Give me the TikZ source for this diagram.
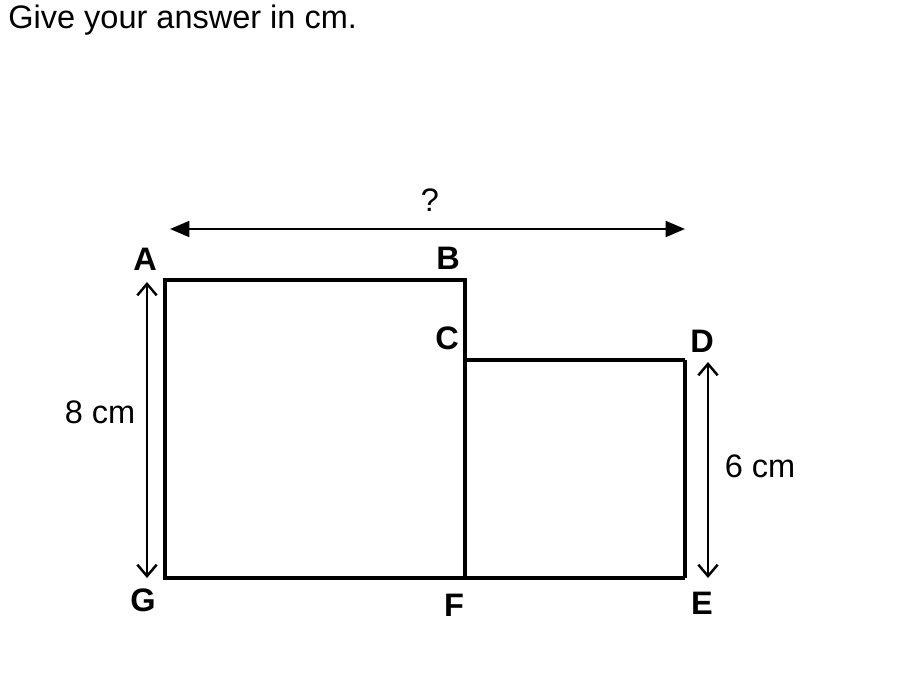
\documentclass[tikz,border=0pt]{standalone}
\usepackage{fontspec}
\setmainfont{Liberation Sans}
\usetikzlibrary{arrows.meta}

\begin{document}
\begin{tikzpicture}[x=0.02cm, y=-0.02cm, font=\fontsize{18.5}{22}\selectfont]
    \useasboundingbox (0,0) rectangle (900,700);
    % --- Question text ---
    \node[anchor=base west, inner sep=0pt] (question) at (8,28) {Give your answer in cm.};

    % Corner points
    \coordinate (A) at (165,280);
    \coordinate (B) at (465,280);
    \coordinate (C) at (465,360);
    \coordinate (D) at (685,360);
    \coordinate (E) at (685,578);
    \coordinate (F) at (465,578);
    \coordinate (G) at (165,578);

    % Big square and small rectangle
    \draw[line width=2.2pt, line join=miter] (A) -- (B) -- (F) -- (G) -- cycle;
    \draw[line width=1.8pt, line join=miter] (C) -- (D);
    \draw[line width=2.2pt, line join=miter] (D) -- (E);
    \draw[line width=1.8pt] (F) -- (E);

    % Corner labels
    \node[font=\fontsize{18.5}{22}\selectfont\bfseries] (lA) at (145,259) {A};
    \node[font=\fontsize{18.5}{22}\selectfont\bfseries] (lB) at (448,258) {B};
    \node[font=\fontsize{18.5}{22}\selectfont\bfseries] (lC) at (447,338) {C};
    \node[font=\fontsize{18.5}{22}\selectfont\bfseries] (lD) at (702,341) {D};
    \node[font=\fontsize{18.5}{22}\selectfont\bfseries] (lE) at (702,603) {E};
    \node[font=\fontsize{18.5}{22}\selectfont\bfseries] (lF) at (454,605) {F};
    \node[font=\fontsize{18.5}{22}\selectfont\bfseries] (lG) at (143,600) {G};

    % Width arrow (unknown)
    \coordinate (w1) at (170,229);
    \coordinate (w2) at (685,229);
    \draw[line width=1.4pt, {Triangle[length=11pt, width=9pt]}-{Triangle[length=11pt, width=9pt]}] (w1) -- (w2);
    \node (lq) at (430,200) {?};

    % Height arrows
    \coordinate (h1) at (147,282);
    \coordinate (h2) at (147,578);
    \draw[line width=1.4pt, {Straight Barb[length=6.5pt, width=11pt]}-{Straight Barb[length=6.5pt, width=11pt]}] (h1) -- (h2);
    \node (l8) at (100,412) {8 cm};

    \coordinate (k1) at (708,362);
    \coordinate (k2) at (708,578);
    \draw[line width=1.4pt, {Straight Barb[length=6.5pt, width=11pt]}-{Straight Barb[length=6.5pt, width=11pt]}] (k1) -- (k2);
    \node (l6) at (760,466) {6 cm};
\end{tikzpicture}
\end{document}
